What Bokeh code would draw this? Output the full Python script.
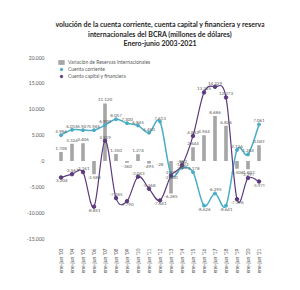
import math
from bokeh.plotting import figure
from bokeh.layouts import column
from bokeh.models import (ColumnDataSource, FixedTicker, Range1d, Legend, LegendItem)
from bokeh.core.properties import value
from bokeh.embed import file_html
from bokeh.resources import INLINE

# ---------------- data ----------------
years = ["'03", "'04", "'05", "'06", "'07", "'08", "'09", "'10", "'11", "'12",
         "'13", "'14", "'15", "'16", "'17", "'18", "'19", "'20", "'21"]
x_labels = ["ene-jun " + y for y in years]
reservas = [1708, 3324, 3406, -2588, 11120, 1350, -360, 1274, -495, -28,
            -6285, -600, 2644, 4944, 8686, 6826, -1506, -1607, 3049]
corriente = [4986, 6016, 5947, 5946, 6900, 8057, 7300, 6845, 5450, 7613,
             -2600, -1322, -2178, -8626, -6295, -8641, 2126, 1254, 7061]
capital = [-3204, -2563, -2161, -8851, 3919, -7185, -7790, -3043, -5368, -7641,
           -2870, -850, 4832, 13245, 14329, 12273, -7396, -3297, -3979]
y_ticks = [-15000, -10000, -5000, 0, 5000, 10000, 15000, 20000]
title_lines = ["Evolución de la cuenta corriente, cuenta capital y financiera y reservas",
               "internacionales del BCRA (millones de dólares)",
               "Enero-junio 2003-2021"]

# ---------------- style ----------------
FONT = "Lato"
GRAY_TXT = "#595959"
BAR_C = "#A6A6A6"
CYAN = "#4BACC6"
PURPLE = "#5B3A7E"
W = 300
TH = 50          # title strip height
MH = 240         # main figure height

def fmt(v):
    s = f"{abs(int(v)):,}".replace(",", ".")
    return ("-" if v < 0 else "") + s

# ---------------- title strip (y downward) ----------------
tfig = figure(width=W, height=TH, output_backend="svg", toolbar_location=None,
              x_range=Range1d(0, W), y_range=Range1d(TH, 0),
              x_axis_location=None, y_axis_location=None,
              min_border=0, outline_line_color=None, title=None)
tfig.grid.visible = False
tfig.background_fill_color = "white"
tfig.border_fill_color = "white"
tfig.text(x=[W / 2] * 3, y=[23.5 + 9.5 * k for k in range(3)], text=title_lines,
          text_font=value(FONT), text_font_size="7px", text_font_style="bold",
          text_color="#262626", text_align="center", text_baseline="middle")

# ---------------- main chart ----------------
n = len(years)
xs = list(range(n))

p = figure(width=W, height=MH, output_backend="svg", toolbar_location=None,
           x_range=Range1d(-0.5, n - 0.5), y_range=Range1d(-15000, 20000),
           min_border_left=55, min_border_right=36, min_border_top=7,
           min_border_bottom=52, outline_line_color=None, title=None)
p.background_fill_color = "white"
p.border_fill_color = "white"
p.xgrid.visible = False
p.ygrid.visible = False

for ax in (p.xaxis[0], p.yaxis[0]):
    ax.axis_line_color = None
    ax.major_tick_line_color = None
    ax.minor_tick_line_color = None
    ax.major_label_text_font = FONT
    ax.major_label_text_font_size = "5px"
    ax.major_label_text_color = GRAY_TXT
p.yaxis.ticker = FixedTicker(ticks=y_ticks)
p.yaxis.major_label_overrides = {t: fmt(t) for t in y_ticks}
p.yaxis.major_label_standoff = 5
p.xaxis.ticker = FixedTicker(ticks=xs)
p.xaxis.major_label_overrides = {i: x_labels[i] for i in xs}
p.xaxis.major_label_orientation = math.pi / 2
p.xaxis.major_label_standoff = 4

# bars
bar_src = ColumnDataSource(dict(x=xs, top=reservas))
r_bar = p.vbar(x="x", top="top", bottom=0, width=0.33, source=bar_src,
               fill_color=BAR_C, line_color=None)

# smooth lines via bezier segments (Excel-like smoothing)
def bezier_source(vals):
    d = dict(x0=[], y0=[], x1=[], y1=[], cx0=[], cy0=[], cx1=[], cy1=[])
    for i in range(n - 1):
        i0 = max(i - 1, 0)
        i3 = min(i + 2, n - 1)
        d["x0"].append(xs[i]); d["y0"].append(vals[i])
        d["x1"].append(xs[i + 1]); d["y1"].append(vals[i + 1])
        d["cx0"].append(xs[i] + (xs[i + 1] - xs[i0]) / 6)
        d["cy0"].append(vals[i] + (vals[i + 1] - vals[i0]) / 6)
        d["cx1"].append(xs[i + 1] - (xs[i3] - xs[i]) / 6)
        d["cy1"].append(vals[i + 1] - (vals[i3] - vals[i]) / 6)
    return ColumnDataSource(d)

p.bezier(x0="x0", y0="y0", x1="x1", y1="y1", cx0="cx0", cy0="cy0",
         cx1="cx1", cy1="cy1", source=bezier_source(corriente),
         line_color=CYAN, line_width=1.5)
r_cc_pts = p.scatter(xs, corriente, size=3, marker="circle", fill_color=CYAN,
                     line_color=CYAN)
p.bezier(x0="x0", y0="y0", x1="x1", y1="y1", cx0="cx0", cy0="cy0",
         cx1="cx1", cy1="cy1", source=bezier_source(capital),
         line_color=PURPLE, line_width=1.2)
r_kf_pts = p.scatter(xs, capital, size=3.5, marker="circle", fill_color=PURPLE,
                     line_color=PURPLE)

# legend proxies (empty lines just for legend glyph)
r_cc_leg = p.line(x=[], y=[], line_color=CYAN, line_width=1.5)
r_kf_leg = p.line(x=[], y=[], line_color=PURPLE, line_width=1.2)

# data labels
def add_labels(vals, kind):
    ax, ay, atxt, bx, by, btxt = [], [], [], [], [], []
    for i, v in enumerate(vals):
        if kind == "bar":
            below = v < 0
        else:
            nb = [vals[j] for j in (i - 1, i + 1) if 0 <= j < n]
            below = v < 0 and all(v < w for w in nb)
        if below:
            bx.append(xs[i]); by.append(v); btxt.append(fmt(v))
        else:
            ax.append(xs[i]); ay.append(v); atxt.append(fmt(v))
    p.text(ax, ay, text=atxt, text_font=value(FONT), text_font_size="4.5px",
           text_color=GRAY_TXT, text_align="center", text_baseline="bottom",
           y_offset=-2)
    p.text(bx, by, text=btxt, text_font=value(FONT), text_font_size="4.5px",
           text_color=GRAY_TXT, text_align="center", text_baseline="top",
           y_offset=2)

add_labels(reservas, "bar")
add_labels(corriente, "line")
add_labels(capital, "line")

legend = Legend(items=[
    LegendItem(label="Variación de Reservas Internacionales", renderers=[r_bar]),
    LegendItem(label="Cuenta corriente", renderers=[r_cc_leg, r_cc_pts]),
    LegendItem(label="Cuenta capital y financiera", renderers=[r_kf_leg, r_kf_pts]),
], location="top_left", label_text_font=FONT, label_text_font_size="5px",
    label_text_color=GRAY_TXT, glyph_width=8, glyph_height=6, label_height=6,
    spacing=1, padding=2, margin=2, border_line_color=None,
    background_fill_alpha=0, label_standoff=3)
p.add_layout(legend)

layout = column(tfig, p, spacing=0)
open("out.html", "w").write(file_html(layout, INLINE))
